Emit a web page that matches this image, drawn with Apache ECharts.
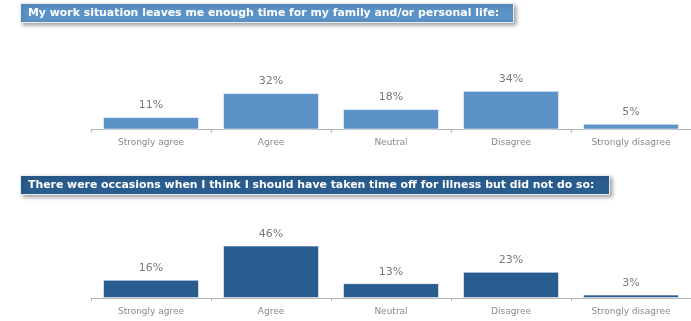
<!DOCTYPE html>
<html>
<head>
<meta charset="utf-8">
<script src="https://cdn.jsdelivr.net/npm/echarts@6/dist/echarts.min.js"></script>
<style>
  html, body { margin: 0; padding: 0; background: #fff; }
  #chart { width: 691px; height: 321px; }
</style>
</head>
<body>
<div id="chart"></div>
<script>
// Survey answers shared by both questions
const categories = ['Strongly agree', 'Agree', 'Neutral', 'Disagree', 'Strongly disagree'];

// Question 1: time for family / personal life
const titleTop = 'My work situation leaves me enough time for my family and/or personal life:';
const valuesTop = [11, 32, 18, 34, 5];

// Question 2: working while ill
const titleBottom = 'There were occasions when I think I should have taken time off for illness but did not do so:';
const valuesBottom = [16, 46, 13, 23, 3];

const colorTop = '#5b93c8';
const colorBottom = '#2a5d8f';

const chart = echarts.init(document.getElementById('chart'), null, { renderer: 'canvas' });

function titleBox(text, top, color) {
  return {
    text: text,
    left: 20,
    top: top,
    padding: [5, 15, 4, 8],
    backgroundColor: color,
    borderColor: '#e8eef5',
    borderWidth: 1,
    shadowColor: 'rgba(0,0,0,0.35)',
    shadowBlur: 4,
    shadowOffsetX: 2,
    shadowOffsetY: 2,
    textStyle: {
      fontFamily: 'DejaVu Sans',
      fontSize: 10.9,
      fontWeight: 'bold',
      color: '#ffffff'
    }
  };
}

function xAxisFor(gridIndex) {
  return {
    type: 'category',
    gridIndex: gridIndex,
    data: categories,
    axisLine: { lineStyle: { color: '#b4b4b4', width: 1 } },
    axisTick: { show: true, length: 3, lineStyle: { color: '#b4b4b4' } },
    axisLabel: {
      color: '#8a8a8a',
      fontFamily: 'DejaVu Sans',
      fontSize: 9,
      margin: 9
    }
  };
}

function yAxisFor(gridIndex, max) {
  return {
    type: 'value',
    gridIndex: gridIndex,
    min: 0,
    max: max,
    show: false,
    splitLine: { show: false }
  };
}

function barSeries(idx, values, color) {
  return {
    type: 'bar',
    xAxisIndex: idx,
    yAxisIndex: idx,
    data: values,
    barWidth: 96,
    itemStyle: {
      color: color,
      borderColor: 'rgba(255,255,255,0.55)',
      borderWidth: 1
    },
    label: {
      show: true,
      position: 'top',
      distance: 6,
      formatter: '{c}%',
      color: '#7a7a7a',
      fontFamily: 'DejaVu Sans',
      fontSize: 11
    },
    animation: false
  };
}

chart.setOption({
  animation: false,
  title: [
    titleBox(titleTop, 3, colorTop),
    titleBox(titleBottom, 175, colorBottom)
  ],
  grid: [
    { left: 91, right: -5, top: 84, bottom: 191.5 },
    { left: 91, right: -5, top: 241, bottom: 23 }
  ],
  xAxis: [xAxisFor(0), xAxisFor(1)],
  yAxis: [yAxisFor(0, 40), yAxisFor(1, 50)],
  series: [
    barSeries(0, valuesTop, colorTop),
    barSeries(1, valuesBottom, colorBottom)
  ]
});
</script>
</body>
</html>
